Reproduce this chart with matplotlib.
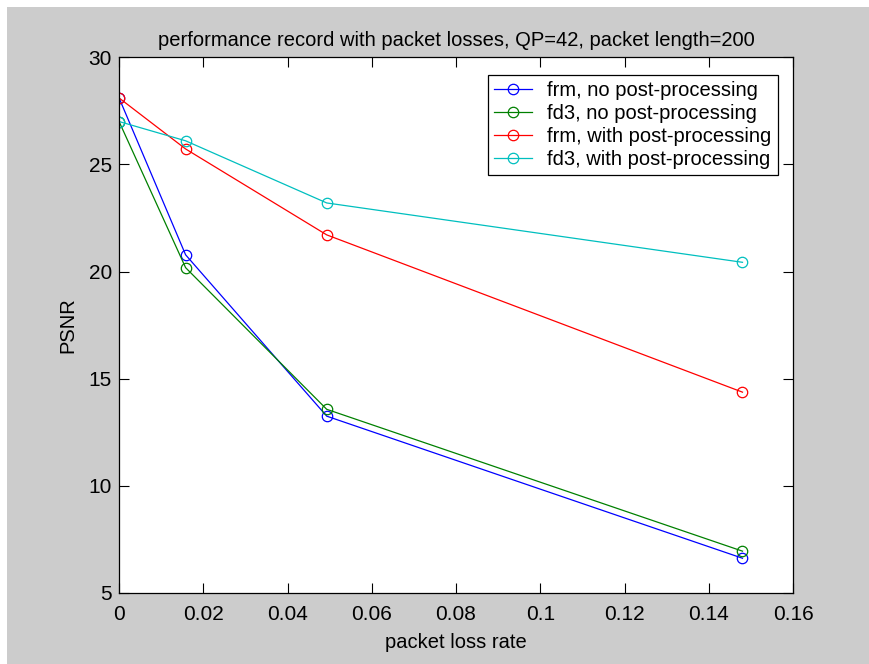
import numpy as np
import matplotlib
matplotlib.use("Agg")
import matplotlib.pyplot as plt
from matplotlib.patches import Rectangle

plt.rcParams['font.family'] = ['Liberation Sans', 'DejaVu Sans']
plt.rcParams['font.size'] = 14.5

# Datos
loss_rate = [0, 0.0158, 0.0493, 0.148]
frm_no_pp = [28.1, 20.78, 13.25, 6.62]
fd3_no_pp = [27.0, 20.18, 13.57, 6.95]
frm_pp = [28.1, 25.72, 21.71, 14.37]
fd3_pp = [27.0, 26.1, 23.2, 20.43]

labels = ["frm, no post-processing", "fd3, no post-processing",
          "frm, with post-processing", "fd3, with post-processing"]
colores = ["#0000ff", "#008000", "#ff0000", "#00bfbf"]

fig = plt.figure(figsize=(8.69, 6.64), dpi=100, facecolor="white")
# fondo gris tipo matlab (con el borde blanco de la captura)
fig.patches.append(Rectangle((7 / 869, 0), 1, 1 - 7 / 664, transform=fig.transFigure,
                             facecolor="#cccccc", edgecolor="none", zorder=-10))

ax = fig.add_axes([0.137, 0.107, 0.7756, 0.8068])
ax.set_facecolor("white")

series = [frm_no_pp, fd3_no_pp, frm_pp, fd3_pp]
for s, lab, c in zip(series, labels, colores):
    ax.plot(loss_rate, s, color=c, lw=0.9, marker="o", ms=7.5, mfc="none",
            mec=c, mew=0.9, label=lab)

ax.set_xlim(0, 0.16)
ax.set_ylim(5, 30)
ax.set_xticks(np.arange(0, 0.161, 0.02))
ax.set_xticklabels(["0", "0.02", "0.04", "0.06", "0.08", "0.1", "0.12", "0.14", "0.16"])
ax.set_yticks([5, 10, 15, 20, 25, 30])
ax.tick_params(direction="in", length=7, width=0.8, top=True, right=True, labelsize=15)
ax.tick_params(axis="x", pad=9)
ax.tick_params(axis="y", pad=5)
for sp in ax.spines.values():
    sp.set_linewidth(0.9)

ax.set_title("performance record with packet losses, QP=42, packet length=200",
             fontsize=14.5, pad=8)
ax.set_xlabel("packet loss rate", labelpad=6)
ax.set_ylabel("PSNR", labelpad=8)

leg = ax.legend(loc="upper right", bbox_to_anchor=(0.977, 0.967), fancybox=False,
                framealpha=1, edgecolor="black", handlelength=1.9, fontsize=14.5,
                labelspacing=0.2, borderpad=0.3, handletextpad=0.75, borderaxespad=0)
leg.get_frame().set_linewidth(0.9)

plt.savefig("out.png", dpi=100, facecolor=fig.get_facecolor())
